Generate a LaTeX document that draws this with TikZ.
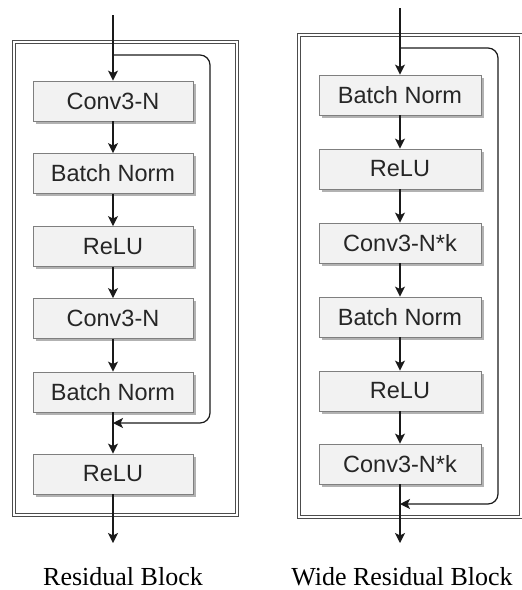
\documentclass[tikz,border=0pt]{standalone}
\usepackage{fontspec}
\setmainfont{Liberation Serif}
\newfontfamily\boxfont{Liberation Sans}
\usetikzlibrary{arrows.meta,shadows}
\definecolor{boxfill}{HTML}{F2F2F2}
\definecolor{boxline}{HTML}{7F7F7F}
\definecolor{lineclr}{HTML}{1A1A1A}
\begin{document}
\begin{tikzpicture}[x=1pt,y=-1pt,
  blk/.style={draw=boxline, line width=0.9pt, fill=boxfill, minimum width=160pt, minimum height=40pt,
    inner sep=0pt, font=\boxfont\fontsize{23.5}{27}\selectfont, text=black!85,
    drop shadow={shadow xshift=2.5pt, shadow yshift=-2.5pt, fill=black!30, opacity=1}},
  frm/.style={draw=black!70, double=white, double distance=1.5pt, line width=1.2pt, inner sep=0pt},
  conn/.style={draw=lineclr, line width=1.2pt, -{Stealth[length=10pt,width=10pt,inset=2.5pt]}},
  captxt/.style={font=\fontsize{26}{30}\selectfont, anchor=base, text=black}]
\useasboundingbox (0,0) rectangle (522,590);
\begin{scope}
\clip (0,0) rectangle (522,590);
% frames
\node[frm, minimum width=223pt, minimum height=473pt] (F1) at (125.5,278.5) {};
\node[frm, minimum width=222pt, minimum height=482pt] (F2) at (410,276) {};
\end{scope}

% ---------- Residual Block ----------
\coordinate (in1) at (113,15);
\coordinate (b1) at (113,55);
\coordinate (r1a) at (210,55);
\coordinate (r1b) at (210,423);
\coordinate (m1) at (113,423);
\coordinate (out1) at (113,543);
\node[blk] (A1) at (113,101) {Conv3-N};
\node[blk] (A2) at (113,173.5) {Batch Norm};
\node[blk] (A3) at (113,246.5) {ReLU};
\node[blk] (A4) at (113,318.5) {Conv3-N};
\node[blk] (A5) at (113,392) {Batch Norm};
\node[blk] (A6) at (113,474) {ReLU};
\draw[conn] (in1) -- (A1.north);
\draw[conn] (A1) -- (A2);
\draw[conn] (A2) -- (A3);
\draw[conn] (A3) -- (A4);
\draw[conn] (A4) -- (A5);
\draw[conn] (A5) -- (A6);
\draw[conn] (A6) -- (out1);
\draw[conn, rounded corners=10pt] (b1) -- (r1a) -- (r1b) -- (m1);
\node[captxt] (T1) at (123,585) {Residual Block};

% ---------- Wide Residual Block ----------
\coordinate (in2) at (400,8);
\coordinate (b2) at (400,48);
\coordinate (r2a) at (498,48);
\coordinate (r2b) at (498,504);
\coordinate (m2) at (400,504);
\coordinate (out2) at (400,543);
\node[blk, minimum width=162pt] (B1) at (400,95) {Batch Norm};
\node[blk, minimum width=162pt] (B2) at (400,169) {ReLU};
\node[blk, minimum width=162pt] (B3) at (400,243) {Conv3-N*k};
\node[blk, minimum width=162pt] (B4) at (400,317) {Batch Norm};
\node[blk, minimum width=162pt] (B5) at (400,391) {ReLU};
\node[blk, minimum width=162pt] (B6) at (400,464) {Conv3-N*k};
\draw[conn] (in2) -- (B1.north);
\draw[conn] (B1) -- (B2);
\draw[conn] (B2) -- (B3);
\draw[conn] (B3) -- (B4);
\draw[conn] (B4) -- (B5);
\draw[conn] (B5) -- (B6);
\draw[conn] (B6) -- (out2);
\draw[conn, rounded corners=10pt] (b2) -- (r2a) -- (r2b) -- (m2);
\node[captxt] (T2) at (402,585) {Wide Residual Block};
\end{tikzpicture}
\end{document}
